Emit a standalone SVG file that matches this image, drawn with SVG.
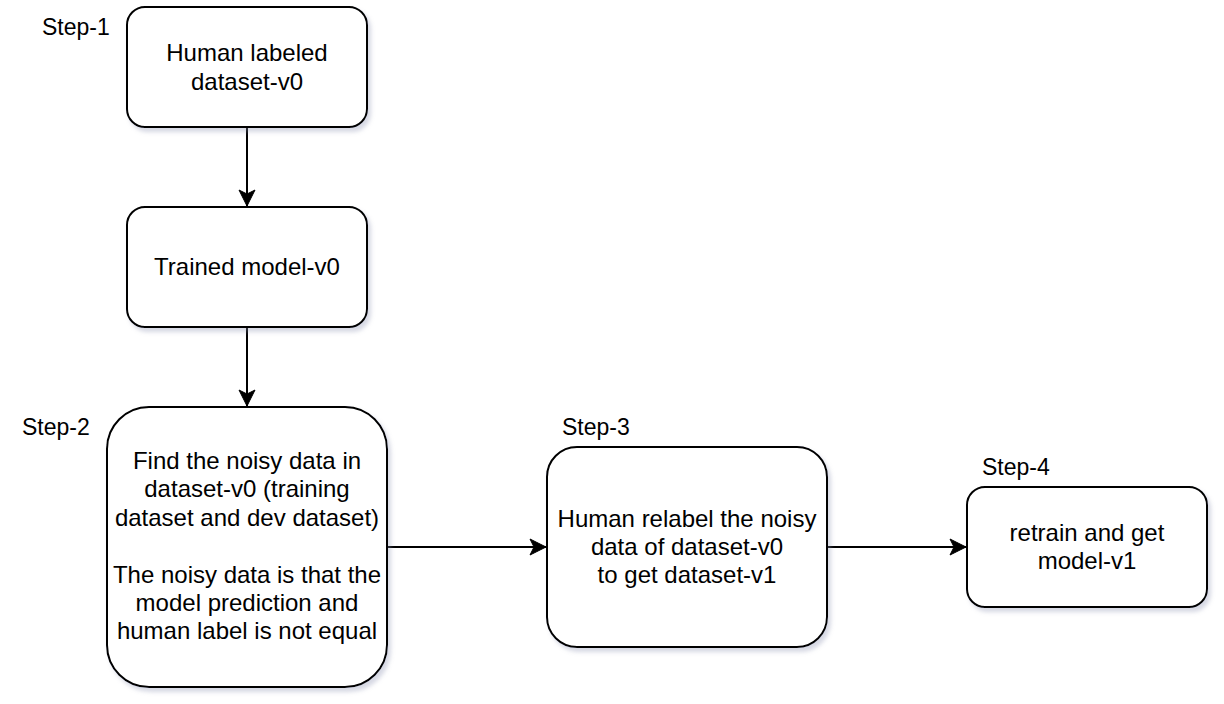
<svg xmlns="http://www.w3.org/2000/svg" width="1224" height="704" viewBox="0 0 1224 704">
<style>
.box{fill:#ffffff;stroke:#000000;stroke-width:2;filter:url(#sh)}
.t{font-family:"Liberation Sans",Arial,Helvetica,sans-serif;font-size:24px;fill:#000000;text-anchor:middle}
.lbl{font-family:"Liberation Sans",Arial,Helvetica,sans-serif;font-size:23px;fill:#000000}
.edge{fill:none;stroke:#000000;stroke-width:2;marker-end:url(#ah)}
</style>
<defs>
<filter id="sh" x="-10%" y="-10%" width="130%" height="130%">
<feGaussianBlur in="SourceAlpha" stdDeviation="2"/>
<feOffset dx="3" dy="4" result="b"/>
<feFlood flood-color="#8a90b0" flood-opacity="0.35"/>
<feComposite in2="b" operator="in"/>
<feMerge><feMergeNode/><feMergeNode in="SourceGraphic"/></feMerge>
</filter>
<marker id="ah" markerUnits="userSpaceOnUse" markerWidth="18" markerHeight="18" viewBox="0 0 18 18" refX="17" refY="9" orient="auto">
<path d="M1,1 L17,9 L1,17 L5,9 Z" fill="#000000" stroke="#000000" stroke-width="1"/>
</marker>
</defs>
<rect width="1224" height="704" fill="#ffffff"/>
<g id="connectors">
<path class="edge" d="M247,127 L247,206"/>
<path class="edge" d="M247,327 L247,406"/>
<path class="edge" d="M387,547 L546,547"/>
<path class="edge" d="M827,547 L966,547"/>
</g>
<g id="node1">
<rect class="box" x="127" y="7" width="240" height="120" rx="18" ry="18"/>
<text class="t" x="247" y="61">Human labeled</text>
<text class="t" x="247" y="90">dataset-v0</text>
</g>
<g id="node2">
<rect class="box" x="127" y="207" width="240" height="120" rx="18" ry="18"/>
<text class="t" x="247" y="275">Trained model-v0</text>
</g>
<g id="node3">
<rect class="box" x="107" y="407" width="280" height="280" rx="42" ry="42"/>
<text class="t" x="247" y="469">Find the noisy data in</text>
<text class="t" x="247" y="497">dataset-v0 (training</text>
<text class="t" x="247" y="526">dataset and dev dataset)</text>
<text class="t" x="247" y="583">The noisy data is that the</text>
<text class="t" x="247" y="611">model prediction and</text>
<text class="t" x="247" y="639">human label is not equal</text>
</g>
<g id="node4">
<rect class="box" x="547" y="447" width="280" height="200" rx="30" ry="30"/>
<text class="t" x="687" y="527">Human relabel the noisy</text>
<text class="t" x="687" y="555">data of dataset-v0</text>
<text class="t" x="687" y="583">to get dataset-v1</text>
</g>
<g id="node5">
<rect class="box" x="967" y="487" width="240" height="120" rx="18" ry="18"/>
<text class="t" x="1087" y="541">retrain and get</text>
<text class="t" x="1087" y="569">model-v1</text>
</g>
<g id="labels">
<text class="lbl" x="42" y="35">Step-1</text>
<text class="lbl" x="22" y="435">Step-2</text>
<text class="lbl" x="562" y="435">Step-3</text>
<text class="lbl" x="982" y="475">Step-4</text>
</g>
</svg>
